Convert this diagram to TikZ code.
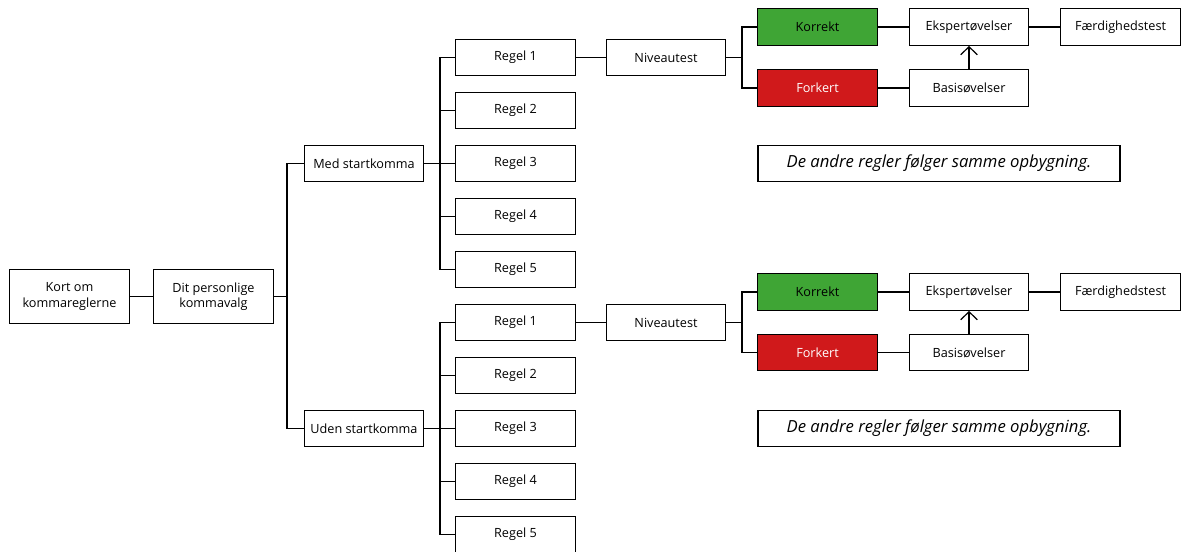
\documentclass[tikz,border=0pt]{standalone}
\usepackage{fontspec}
\setmainfont{Open Sans}
\usetikzlibrary{arrows.meta}
\definecolor{okgreen}{HTML}{3FA535}
\definecolor{badred}{HTML}{D0191B}
\begin{document}
\begin{tikzpicture}[x=0.75pt,y=-0.75pt,
  box/.style={draw,line width=0.9pt,minimum width=89.5pt,minimum height=27.5pt,inner sep=0pt,align=center,font=\fontsize{9.5}{11.5}\selectfont},
  bigbox/.style={box,minimum height=40pt},
  notebox/.style={box,minimum width=271.5pt,font=\fontsize{12.5}{14}\selectfont\itshape},
  greenbox/.style={box,fill=okgreen},
  redbox/.style={box,fill=badred,text=white},
  conn/.style={line width=0.9pt},
  arr/.style={line width=0.9pt,-{Straight Barb[length=6pt,width=12.5pt,line width=0.9pt]}}]
\useasboundingbox (0,0) rectangle (1181,552);
% left
\node[bigbox,minimum width=90.5pt] (kort) at (69.5,296.5) {Kort om\\kommareglerne};
\node[bigbox,minimum width=90.5pt] (dit) at (213.5,296.5) {Dit personlige\\kommavalg};
\node[box] (med) at (364,163.5) {Med startkomma};
\node[box] (uden) at (364,428.5) {Uden startkomma};
\coordinate (b1) at (287,296.5);
\coordinate (b2) at (440,0);
\coordinate (b3) at (742,0);
% upper rules
\foreach \i/\y in {1/57.5,2/110.5,3/163.5,4/216.5,5/269.5}{
  \node[box] (ra\i) at (515.5,\y) {Regel \i};
}
\foreach \i/\y in {1/322.5,2/375.5,3/428.5,4/481.5,5/534.5}{
  \node[box] (rb\i) at (515.5,\y) {Regel \i};
}
% upper branch
\node[box] (nva) at (666,57.5) {Niveautest};
\node[greenbox] (ka) at (817.5,27) {Korrekt};
\node[redbox] (fa) at (817.5,88) {Forkert};
\node[box] (ea) at (969,27) {Ekspertøvelser};
\node[box] (ba) at (969,88) {Basisøvelser};
\node[box] (da) at (1120.5,27) {Færdighedstest};
\node[notebox] (na) at (939,163.5) {De andre regler følger samme opbygning.};
% lower branch
\node[box] (nvb) at (666,322.5) {Niveautest};
\node[greenbox] (kb) at (817.5,292) {Korrekt};
\node[redbox] (fb) at (817.5,352.5) {Forkert};
\node[box] (eb) at (969,292) {Ekspertøvelser};
\node[box] (bb) at (969,352.5) {Basisøvelser};
\node[box] (db) at (1120.5,292) {Færdighedstest};
\node[notebox] (nb) at (939,428.5) {De andre regler følger samme opbygning.};
% connectors
\draw[conn] (kort) -- (dit);
\draw[conn] (dit.east) -- (b1);
\draw[conn] (med.west) -- (med.west -| b1) -- (uden.west -| b1) -- (uden.west);
\draw[conn] (med.east) -- (med.east -| b2);
\draw[conn] (uden.east) -- (uden.east -| b2);
\draw[conn] (ra1.west) -- (ra1.west -| b2) -- (ra5.west -| b2) -- (ra5.west);
\draw[conn] (rb1.west) -- (rb1.west -| b2) -- (rb5.west -| b2) -- (rb5.west);
\foreach \i in {2,3,4}{
  \draw[conn] (ra\i.west) -- (ra\i.west -| b2);
  \draw[conn] (rb\i.west) -- (rb\i.west -| b2);
}
\foreach \r/\n/\k/\f/\e/\b/\d in {ra1/nva/ka/fa/ea/ba/da, rb1/nvb/kb/fb/eb/bb/db}{
  \draw[conn] (\r) -- (\n);
  \draw[conn] (\n.east) -- (\n.east -| b3);
  \draw[conn] (\k.west) -- (\k.west -| b3) -- (\f.west -| b3) -- (\f.west);
  \draw[conn] (\k) -- (\e);
  \draw[conn] (\f) -- (\b);
  \draw[conn] (\e) -- (\d);
  \draw[arr] (\b.north) -- (\e.south);
}
\end{tikzpicture}
\end{document}
